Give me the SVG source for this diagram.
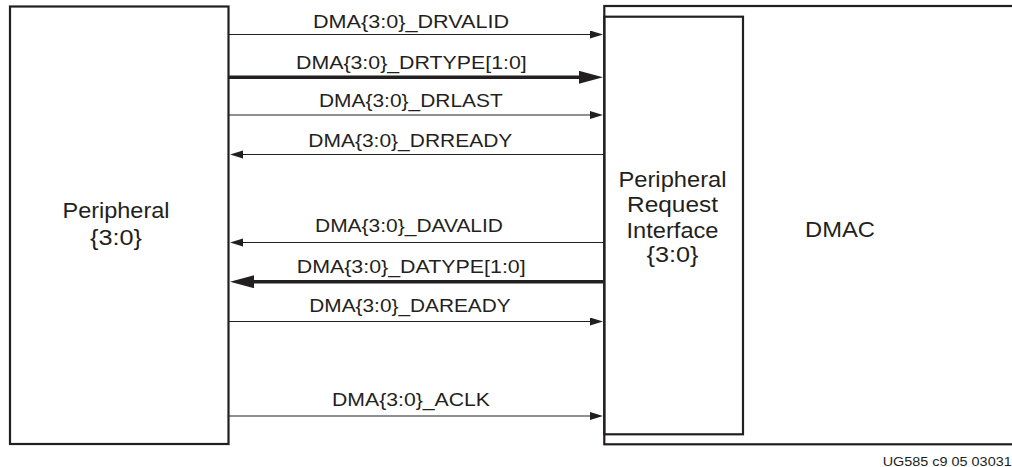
<svg xmlns="http://www.w3.org/2000/svg" width="1012" height="467" viewBox="0 0 1012 467">
<style>
.box{fill:none;stroke:#231f20;stroke-width:2.2}
.sig{stroke:#231f20;stroke-width:1.1;fill:none}
.bus{stroke:#231f20;stroke-width:3.6;fill:none}
.lbl{font-family:"Liberation Sans",Arial,sans-serif;font-size:19px;fill:#231f20}
.big{font-family:"Liberation Sans",Arial,sans-serif;font-size:22px;fill:#231f20;text-anchor:middle}
.foot{font-family:"Liberation Sans",Arial,sans-serif;font-size:12.5px;fill:#231f20}
</style>
<defs>
<marker id="a" markerUnits="userSpaceOnUse" markerWidth="14" markerHeight="9" refX="0" refY="4" orient="auto">
<path d="M0,0 L13,4 L0,8 z" fill="#231f20"/>
</marker>
<marker id="A" markerUnits="userSpaceOnUse" markerWidth="25" markerHeight="14" refX="0" refY="6.5" orient="auto">
<path d="M0,0 L24,6.5 L0,13 z" fill="#231f20"/>
</marker>
</defs>
<g id="peripheral">
<rect class="box" x="10" y="6.5" width="218.5" height="437.5"/>
<text class="big" x="116" y="218" textLength="107" lengthAdjust="spacingAndGlyphs">Peripheral</text>
<text class="big" x="116" y="245" textLength="52" lengthAdjust="spacingAndGlyphs">{3:0}</text>
</g>
<g id="dmac">
<rect class="box" x="604.3" y="6" width="420" height="438.3"/>
<text class="big" x="840" y="237" textLength="70" lengthAdjust="spacingAndGlyphs">DMAC</text>
</g>
<g id="pri">
<rect class="box" x="604.3" y="16.7" width="138.7" height="417.6"/>
<text class="big" x="672.5" y="187" textLength="108" lengthAdjust="spacingAndGlyphs">Peripheral</text>
<text class="big" x="672.5" y="212" textLength="91" lengthAdjust="spacingAndGlyphs">Request</text>
<text class="big" x="672.5" y="237.5" textLength="92" lengthAdjust="spacingAndGlyphs">Interface</text>
<text class="big" x="672.5" y="262" textLength="52" lengthAdjust="spacingAndGlyphs">{3:0}</text>
</g>
<g id="connectors">
<line class="sig" x1="229" y1="34.5" x2="590" y2="34.5" marker-end="url(#a)"/>
<line class="bus" x1="229" y1="77.3" x2="579" y2="77.3" marker-end="url(#A)"/>
<line class="sig" x1="229" y1="115" x2="590" y2="115" marker-end="url(#a)"/>
<line class="sig" x1="603" y1="154.5" x2="243" y2="154.5" marker-end="url(#a)"/>
<line class="sig" x1="603" y1="242.5" x2="243" y2="242.5" marker-end="url(#a)"/>
<line class="bus" x1="603" y1="281.7" x2="254" y2="281.7" marker-end="url(#A)"/>
<line class="sig" x1="229" y1="321.5" x2="590" y2="321.5" marker-end="url(#a)"/>
<line class="sig" x1="229" y1="416" x2="590" y2="416" marker-end="url(#a)"/>
<text class="lbl" x="313" y="27.7" textLength="196" lengthAdjust="spacingAndGlyphs">DMA{3:0}_DRVALID</text>
<text class="lbl" x="296" y="69" textLength="230.7" lengthAdjust="spacingAndGlyphs">DMA{3:0}_DRTYPE[1:0]</text>
<text class="lbl" x="319" y="106.7" textLength="183.7" lengthAdjust="spacingAndGlyphs">DMA{3:0}_DRLAST</text>
<text class="lbl" x="308.3" y="146.7" textLength="204" lengthAdjust="spacingAndGlyphs">DMA{3:0}_DRREADY</text>
<text class="lbl" x="315" y="232.3" textLength="188" lengthAdjust="spacingAndGlyphs">DMA{3:0}_DAVALID</text>
<text class="lbl" x="296.7" y="273.3" textLength="229" lengthAdjust="spacingAndGlyphs">DMA{3:0}_DATYPE[1:0]</text>
<text class="lbl" x="309.3" y="311.7" textLength="201.4" lengthAdjust="spacingAndGlyphs">DMA{3:0}_DAREADY</text>
<text class="lbl" x="332" y="406" textLength="158" lengthAdjust="spacingAndGlyphs">DMA{3:0}_ACLK</text>
</g>
<text class="foot" x="882.7" y="465.5" textLength="129" lengthAdjust="spacingAndGlyphs">UG585 c9 05 03031</text>
</svg>
